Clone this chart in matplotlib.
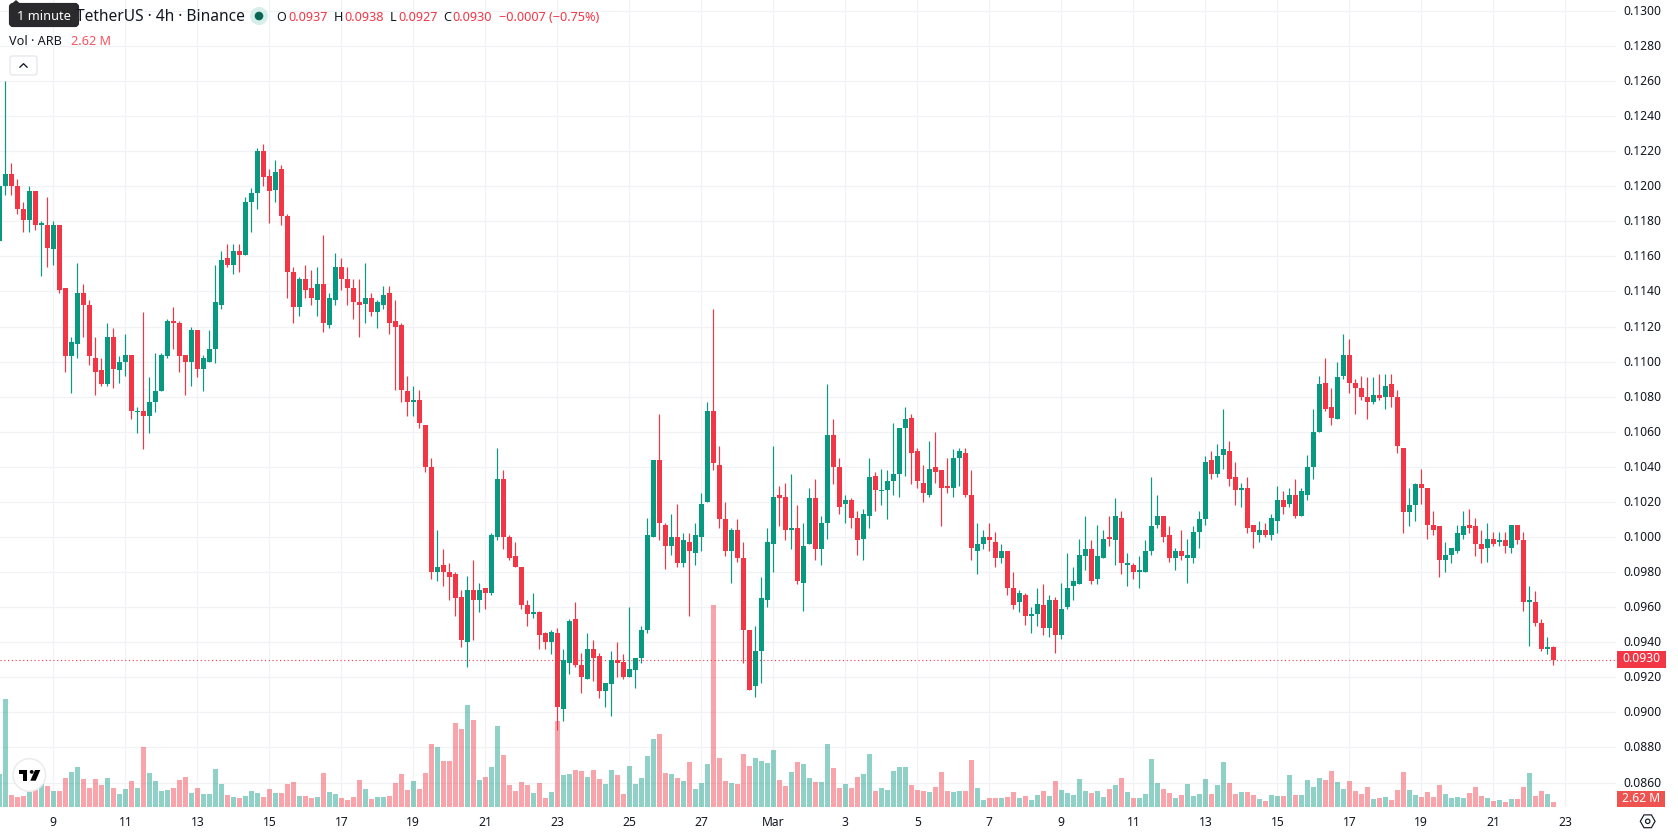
import numpy as np
import matplotlib
matplotlib.use("Agg")
import matplotlib.pyplot as plt
from matplotlib.patches import Circle, FancyBboxPatch, Polygon, Rectangle, RegularPolygon
from matplotlib.transforms import ScaledTranslation

plt.rcParams['font.family'] = ['Noto Sans', 'DejaVu Sans']

# 4h candles, prices in units of 0.0001 USDT
OPEN = [1169,
    1200,1207,1200,1187,1181,1197,1178,1178,1164,1178,
    1142,1103,1110,1139,1132,1102,1095,1087,1114,1095,
    1100,1104,1071,1072,1069,1077,1083,1103,1123,1122,
    1104,1100,1118,1096,1100,1107,1132,1159,1155,1163,
    1161,1191,1196,1220,1206,1198,1210,1183,1151,1131,
    1147,1142,1135,1144,1121,1135,1154,1147,1142,1134,
    1133,1136,1128,1132,1139,1123,1121,1083,1077,1078,
    1064,1040,980,984,980,979,966,940,970,964,
    971,968,1000,1033,1000,989,983,961,956,957,
    945,940,945,902,928,953,927,919,936,932,
    912,916,930,929,920,924,931,947,1000,1044,
    1007,995,1000,985,997,991,1000,1020,1072,1041,
    1010,992,1004,988,947,915,935,964,996,1024,
    1023,1004,1005,974,996,1022,993,1008,1058,1040,
    1019,1021,1011,999,1012,1035,1026,1027,1032,1036,
    1062,1068,1049,1031,1024,1040,1038,1029,1028,1045,
    1048,1024,992,996,1000,997,988,992,971,963,
    967,955,956,961,948,964,944,960,972,973,
    989,993,976,988,1000,998,1011,984,984,980,
    980,992,1007,1012,1001,988,992,988,988,1003,
    1010,1044,1036,1047,1049,1034,1027,1028,1007,1001,
    1004,1001,1009,1021,1019,1024,1012,1024,1040,1060,
    1088,1074,1067,1092,1104,1088,1085,1080,1077,1081,
    1080,1087,1080,1051,1014,1018,1030,1028,1007,1006,
    987,990,992,1001,1007,1006,996,994,999,997,
    998,994,1007,998,963,963,951,936,937]

HIGH = [1202,
    1260,1213,1204,1191,1200,1197,1180,1194,1180,1178,
    1142,1114,1156,1144,1135,1114,1102,1122,1119,1103,
    1116,1104,1074,1128,1091,1105,1105,1124,1131,1123,
    1104,1120,1118,1104,1118,1155,1163,1167,1167,1167,
    1194,1199,1222,1224,1210,1215,1212,1184,1154,1148,
    1155,1152,1154,1172,1139,1162,1159,1154,1147,1147,
    1156,1139,1135,1143,1143,1135,1122,1092,1086,1084,
    1064,1045,1004,993,985,980,970,978,987,974,
    971,1002,1051,1038,1001,997,983,964,968,958,
    946,947,948,936,953,963,934,945,941,934,
    917,935,940,933,960,931,949,1011,1044,1070,
    1008,1013,1019,1002,1002,1008,1025,1077,1130,1052,
    1020,1005,1010,997,947,949,977,1005,1052,1029,
    1031,1036,1018,1008,1028,1033,1012,1087,1067,1045,
    1024,1022,1015,1016,1045,1037,1039,1038,1065,1062,
    1074,1070,1051,1041,1055,1060,1038,1045,1050,1051,
    1051,1038,1008,1004,1008,1003,996,992,980,970,
    968,960,971,973,967,966,974,991,983,999,
    1012,998,1007,1004,1012,1022,1015,991,985,989,
    998,1034,1024,1012,1006,994,1004,999,1006,1015,
    1046,1049,1053,1073,1055,1043,1031,1034,1007,1009,
    1008,1013,1029,1026,1028,1033,1028,1047,1073,1092,
    1102,1085,1100,1116,1113,1090,1092,1091,1091,1093,
    1093,1093,1084,1051,1028,1031,1039,1028,1015,1006,
    997,994,1007,1015,1016,1011,1004,1008,1003,1003,
    1003,1007,1007,1003,972,969,953,943,938]

LOW = [1168,
    1195,1195,1184,1174,1174,1175,1149,1154,1155,1139,
    1094,1082,1102,1114,1098,1081,1086,1086,1085,1088,
    1092,1067,1059,1050,1059,1071,1083,1102,1107,1094,
    1081,1086,1091,1083,1100,1099,1130,1154,1150,1151,
    1161,1174,1187,1200,1179,1191,1178,1136,1122,1126,
    1136,1132,1126,1117,1119,1132,1141,1132,1124,1114,
    1122,1126,1119,1130,1116,1084,1077,1069,1069,1062,
    1037,976,975,972,964,955,937,926,941,957,
    959,967,998,993,987,983,959,949,954,936,
    936,933,890,895,922,926,911,919,918,908,
    903,898,920,919,920,914,928,945,1000,998,
    982,990,983,983,955,984,992,1020,1038,1005,
    989,974,986,928,913,909,917,960,980,1006,
    998,993,973,958,996,987,984,999,1030,1013,
    1008,1005,990,987,1005,1015,1018,1010,1024,1023,
    1035,1030,1028,1020,1023,1031,1006,1025,1023,1029,
    1023,987,979,993,992,983,985,967,959,957,
    950,945,949,944,943,934,942,959,964,973,
    981,973,973,988,995,984,979,972,976,971,
    980,990,1005,997,986,981,987,974,985,994,
    1007,1033,1034,1039,1029,1018,1017,1002,994,997,
    1000,998,1002,1013,1017,1011,1012,1021,1033,1060,
    1072,1064,1067,1090,1082,1070,1078,1067,1076,1078,
    1073,1074,1048,1002,1006,1009,1019,999,1001,977,
    980,985,991,999,1002,989,985,986,995,995,
    991,991,996,958,938,949,935,933,927]

CLOSE = [1200,
    1207,1200,1187,1181,1197,1178,1179,1165,1178,1141,
    1103,1111,1139,1132,1103,1094,1087,1114,1096,1100,
    1104,1072,1072,1069,1077,1083,1104,1123,1122,1103,
    1100,1118,1096,1102,1107,1134,1158,1155,1163,1161,
    1191,1196,1220,1205,1197,1208,1183,1151,1131,1147,
    1141,1136,1144,1122,1136,1154,1147,1142,1134,1132,
    1136,1128,1134,1138,1122,1120,1084,1077,1078,1065,
    1040,980,983,980,977,965,941,970,964,970,
    968,1001,1033,1000,988,983,961,956,957,944,
    940,946,903,930,952,927,920,936,931,912,
    917,930,928,920,925,931,947,1001,1044,1008,
    995,1000,985,998,992,1001,1019,1072,1042,1010,
    992,1004,988,947,913,935,965,997,1023,1022,
    1004,1005,975,995,1022,993,1008,1058,1040,1017,
    1021,1011,998,1013,1034,1027,1027,1032,1036,1062,
    1067,1048,1032,1025,1039,1037,1028,1028,1045,1049,
    1024,994,996,1000,998,988,992,971,961,968,
    955,956,962,948,964,944,959,971,975,990,
    993,975,989,999,999,1012,985,985,980,981,
    992,1006,1012,1000,988,992,989,990,1003,1010,
    1043,1036,1046,1050,1033,1027,1028,1005,1003,1004,
    1001,1011,1021,1017,1024,1012,1026,1040,1060,1087,
    1073,1068,1091,1104,1088,1085,1080,1077,1081,1079,
    1086,1080,1052,1014,1018,1030,1028,1007,1004,987,
    990,994,1002,1006,1005,996,993,999,996,998,
    995,1007,998,963,964,951,936,937,930]

# Volume per candle, in millions of ARB
VOLUME = [17.3,
    56.6,6.3,5.2,5.8,7.9,8.9,12.1,11.0,8.4,8.4,
    15.2,18.3,21.0,14.7,10.0,14.7,11.5,15.2,10.0,6.8,
    9.4,13.6,10.0,31.4,17.8,13.6,8.4,8.9,10.0,14.1,
    15.7,7.3,10.0,6.8,6.8,19.9,12.1,6.3,5.2,4.7,
    5.8,8.4,7.3,5.2,9.4,7.3,7.3,12.1,13.1,5.8,
    5.8,4.7,5.2,17.8,7.9,6.8,4.7,3.7,5.2,14.1,
    9.4,4.2,5.2,5.2,5.8,12.6,17.3,8.9,13.6,9.4,
    17.8,33.0,31.4,24.1,24.1,44.0,40.9,53.4,45.6,14.1,
    15.7,21.0,42.4,27.2,11.5,8.4,13.1,11.5,7.3,12.6,
    4.7,7.9,45.1,16.8,17.3,19.4,18.9,15.7,19.4,14.7,
    12.1,19.4,16.8,6.8,21.5,12.1,15.2,26.7,35.6,38.3,
    17.8,17.3,15.2,13.6,23.6,9.4,12.6,22.5,105.8,25.7,
    13.6,12.6,12.1,27.8,21.5,25.7,24.1,23.1,29.9,14.1,
    11.0,18.3,23.6,22.5,15.2,13.1,13.1,33.0,20.4,10.0,
    12.1,10.0,15.7,17.3,27.8,8.4,10.0,8.9,18.9,21.0,
    21.0,11.5,8.9,8.4,7.9,10.5,18.3,8.4,7.9,8.4,
    8.4,24.6,10.0,3.7,4.7,4.7,4.7,5.2,7.9,4.7,
    5.8,3.7,6.3,8.4,5.8,13.6,8.9,7.3,6.3,14.7,
    8.4,7.3,8.4,5.2,9.4,11.5,15.2,7.9,4.7,4.7,
    6.8,25.2,12.6,9.4,7.3,4.7,6.3,12.1,5.8,6.8,
    14.7,6.8,11.5,23.6,12.6,6.8,7.9,7.9,6.3,4.2,
    3.1,6.3,5.8,5.8,16.8,6.3,6.3,14.1,10.5,15.2,
    14.1,18.9,13.1,9.4,13.6,8.4,6.8,10.5,4.2,4.7,
    5.2,3.7,8.9,18.3,8.9,6.3,5.2,7.9,5.2,11.5,
    6.8,4.7,5.2,4.7,7.3,10.5,5.8,4.7,3.1,3.7,
    2.6,4.2,4.2,10.5,17.8,5.8,8.4,6.8,2.62]

# Date labels and the candle index each one falls on
DATE_LABELS = ['9','11','13','15','17','19','21','23','25','27','Mar',
               '3','5','7','9','11','13','15','17','19','21','23']
DATE_POSITIONS = [9 + 12 * n for n in range(len(DATE_LABELS))]
PRICE_TICKS = [0.0860 + 0.002 * n for n in range(23)]
LAST_PRICE = 0.0930

UP = '#089981'
DOWN = '#F23645'
GRID = '#F1F2F5'
TEXT = '#131722'

W, H = 1678, 835
AXIS_RIGHT, AXIS_BOTTOM = 1616, 807
PX_PER_PRICE = 17540.0
PX_PER_MILLION = 1.908
PRICE_TOP = 0.112 + 326.5 / PX_PER_PRICE
PRICE_BOTTOM = 0.112 - (AXIS_BOTTOM - 326.5) / PX_PER_PRICE
XLIM = (0.111, 269.44)

o, h, l, c = [np.array(a) / 1e4 for a in (OPEN, HIGH, LOW, CLOSE)]
vol = np.array(VOLUME)
idx = np.arange(len(o))
rising = c >= o
colors = np.where(rising, UP, DOWN)

fig = plt.figure(figsize=(W / 100, H / 100), dpi=100, facecolor='white')
rect = [0, (H - AXIS_BOTTOM) / H, AXIS_RIGHT / W, AXIS_BOTTOM / H]

# Bottom layer: grid and tick labels
ax = fig.add_axes(rect, zorder=1)
ax.set_xlim(*XLIM)
ax.set_ylim(PRICE_BOTTOM, PRICE_TOP)
ax.yaxis.tick_right()
ax.set_yticks(PRICE_TICKS)
ax.set_yticklabels([f'{p:.4f}' for p in PRICE_TICKS])
ax.set_xticks(DATE_POSITIONS)
ax.set_xticklabels(DATE_LABELS)
for lab in ax.get_xticklabels():
    if lab.get_text() == 'Mar':
        lab.set_fontweight('bold')
ax.tick_params(axis='both', length=0, labelsize=8.7, labelcolor=TEXT)
ax.tick_params(axis='y', pad=5.4)
ax.tick_params(axis='x', pad=6.8)
nudge_up = ScaledTranslation(0, 1 / 100, fig.dpi_scale_trans)
for lab in ax.get_yticklabels():
    lab.set_transform(lab.get_transform() + nudge_up)
ax.grid(True, color=GRID, linewidth=0.9)
ax.set_axisbelow(True)
for s in ax.spines.values():
    s.set_visible(False)

# Middle layer: volume histogram
ax_vol = fig.add_axes(rect, zorder=2)
ax_vol.patch.set_visible(False)
ax_vol.set_xlim(*XLIM)
ax_vol.set_ylim(0, AXIS_BOTTOM / PX_PER_MILLION)
ax_vol.bar(idx, vol, width=5 / 6, color=colors, alpha=0.45, linewidth=0)
ax_vol.axis('off')

# Top layer: candles and last-price line
ax_c = fig.add_axes(rect, zorder=3)
ax_c.patch.set_visible(False)
ax_c.set_xlim(*XLIM)
ax_c.set_ylim(PRICE_BOTTOM, PRICE_TOP)
ax_c.axhline(LAST_PRICE, color=DOWN, linewidth=0.8, linestyle=(0, (1, 2.4)), zorder=1)
ax_c.vlines(idx, l, h, colors=colors, linewidth=0.85, zorder=2)
ax_c.bar(idx, np.abs(c - o), bottom=np.minimum(o, c), width=5 / 6,
         color=colors, linewidth=0, zorder=3)
ax_c.axis('off')

# Overlay in pixel coordinates for the legend and chart furniture
ov = fig.add_axes([0, 0, 1, 1], zorder=10)
ov.set_xlim(0, W)
ov.set_ylim(H, 0)
ov.axis('off')
ov.patch.set_visible(False)

ov.text(76, 17, 'TetherUS · 4h · Binance', fontsize=11.2, color=TEXT, va='center', ha='left')
ov.add_patch(Polygon([[12, 3.5], [16, 0], [20, 3.5]], closed=True, color='#2A2A2C', lw=0))
ov.add_patch(FancyBboxPatch((11, 5), 66, 20, boxstyle='round,pad=0,rounding_size=2',
                            mutation_aspect=1, fc='#2A2A2C', ec='#2A2A2C', lw=3))
ov.text(44, 16, '1 minute', fontsize=9.2, color='white', va='center', ha='center')

ov.add_patch(Circle((259, 16), 9, fc='#D8EEEA', lw=0))
ov.add_patch(Circle((259, 16), 4.3, fc='#056656', lw=0))

legend_y = 17.5
for x, s, col in [(276.5, 'O', TEXT), (288, '0.0937', DOWN), (334, 'H', TEXT), (344, '0.0938', DOWN),
                  (390, 'L', TEXT), (398, '0.0927', DOWN), (443.5, 'C', TEXT), (452.5, '0.0930', DOWN),
                  (499, '−0.0007 (−0.75%)', DOWN)]:
    ov.text(x, legend_y, s, fontsize=9.1, color=col, va='center', ha='left')

ov.text(9, 41.5, 'Vol · ARB', fontsize=9.1, color=TEXT, va='center', ha='left')
ov.text(71, 41.5, '2.62 M', fontsize=9.1, color='#F7525F', va='center', ha='left')

# Collapse button
ov.add_patch(FancyBboxPatch((10, 56), 27, 19, boxstyle='round,pad=0,rounding_size=2.5',
                            fc='white', ec='#E0E3EB', lw=0.8))
ov.plot([19.8, 23.5, 27.2], [67.3, 63.7, 67.3], color=TEXT, lw=0.95, solid_capstyle='round')

# Last-price and last-volume tags on the scale
ov.add_patch(Rectangle((1617, 651), 49, 17, fc=DOWN, lw=0))
ov.text(1641.5, 659, '0.0930', fontsize=8.7, color='white', va='center', ha='center')
ov.add_patch(Rectangle((1617, 791), 48, 16, fc='#EF5350', lw=0))
ov.text(1641, 798.5, '2.62 M', fontsize=8.7, color='white', va='center', ha='center')

# Settings icon
ov.add_patch(RegularPolygon((1647.7, 821.3), 6, radius=7.4, orientation=np.pi / 6,
                            fc='white', ec=TEXT, lw=0.85))
ov.add_patch(Circle((1647.7, 821.3), 2.2, fc='white', ec=TEXT, lw=0.85))

# Watermark badge
ov.add_patch(Circle((29.3, 775), 16.3, fc=(1, 1, 1, 0.93), ec='#E9EAEC', lw=1.0))
ov.add_patch(Polygon([[19, 770], [26.7, 770], [26.7, 780.7], [22.5, 780.7], [22.5, 774], [19, 774]],
                     closed=True, fc='black', lw=0))
ov.add_patch(Circle((31.7, 771.9), 1.9, fc='black', lw=0))
ov.add_patch(Polygon([[35, 770], [40.3, 770], [35.7, 780.7], [30.3, 780.7]], closed=True, fc='black', lw=0))

fig.savefig('out.png', dpi=100, facecolor='white')
